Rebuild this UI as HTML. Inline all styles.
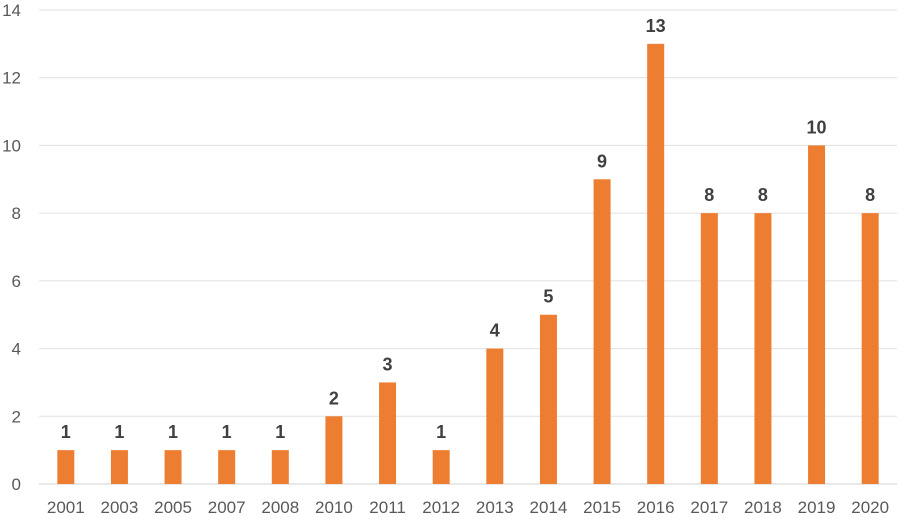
<!DOCTYPE html>
<html><head><meta charset="utf-8"><style>
html,body{margin:0;padding:0;background:#fff}
svg{display:block;font-family:"Liberation Sans",Arial,sans-serif}
</style></head><body>
<svg id="chart" width="900" height="519"></svg>
<script>
const categories=["2001","2003","2005","2007","2008","2010","2011","2012","2013","2014","2015","2016","2017","2018","2019","2020"];
const values=[1,1,1,1,1,2,3,1,4,5,9,13,8,8,10,8];
const yTicks=[0,2,4,6,8,10,12,14];
const NS="http://www.w3.org/2000/svg";
const svg=document.getElementById('chart');
const L=39,R=897,T=10,B=484,yMax=14;
const y=v=>B-(v/yMax)*(B-T);
const bw=(R-L)/categories.length;
const x=i=>L+bw*(i+0.5);
function mk(t,a){const e=document.createElementNS(NS,t);for(const k in a)e.setAttribute(k,a[k]);svg.appendChild(e);return e;}
yTicks.forEach(t=>{
  const g=mk('line',{x1:L,x2:R,y1:y(t),y2:y(t),stroke:t===0?'#d0d0d0':'#e0e0e0','stroke-width':1});
  
  
  const lb=mk('text',{x:21,y:y(t)+6,'text-anchor':'end','font-size':17,fill:'#595959'});
  lb.textContent=t;
  
  
});
categories.forEach((c,i)=>{
  const v=values[i];
  const r=mk('rect',{x:x(i)-8.5,y:y(v),width:17,height:B-y(v),fill:'#ED7D31'});
  
  
  const vl=mk('text',{x:x(i),y:y(v)-12,'text-anchor':'middle','font-size':18,'font-weight':'bold',fill:'#404040'});
  vl.textContent=v;
  
  
  const xl=mk('text',{x:x(i),y:513,'text-anchor':'middle','font-size':17,fill:'#595959'});
  xl.textContent=c;
  
  
});
</script>
</body></html>
